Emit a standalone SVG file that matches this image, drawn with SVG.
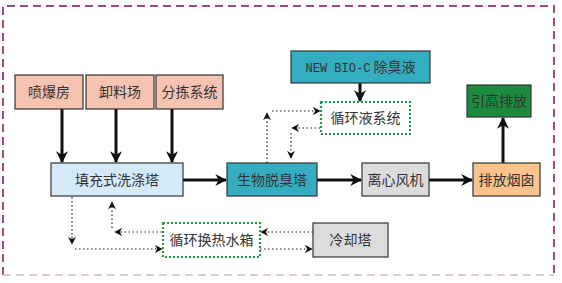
<svg xmlns="http://www.w3.org/2000/svg" width="562" height="283" viewBox="0 0 562 283">
<defs>
<marker id="ah" viewBox="0 0 10 10" refX="9" refY="5" markerWidth="4" markerHeight="4" orient="auto" markerUnits="strokeWidth">
<path d="M0,0 L10,5 L0,10 L3,5 z" fill="#111"/>
</marker>
<marker id="ahd" viewBox="0 0 10 10" refX="9" refY="5" markerWidth="8" markerHeight="8" orient="auto" markerUnits="userSpaceOnUse">
<path d="M0,0 L10,5 L0,10 L3,5 z" fill="#111"/>
</marker>
</defs>
<style>
.box{stroke:#333;stroke-width:1.2}
.pink{fill:#f6c2b2}
.lblue{fill:#d4eaf8}
.teal{fill:#35adc1}
.grey{fill:#dcdcdc}
.orange{fill:#f8c38c}
.green{fill:#1d8b3e}
.dotbox{fill:#fff;stroke:#1e9a46;stroke-width:2.2;stroke-dasharray:2,2}
.t{font-family:"Noto Sans CJK SC","Noto Sans",sans-serif;font-size:14px;fill:#333;text-anchor:middle}
.solid{stroke:#111;stroke-width:3;fill:none;marker-end:url(#ah)}
.dot{stroke:#222;stroke-width:1.2;stroke-dasharray:1.5,2.5;fill:none;marker-end:url(#ahd)}
</style>
<rect x="0" y="0" width="562" height="283" fill="#fff"/>
<g id="frame" fill="none" stroke-width="2" stroke-dasharray="8,5">
<path d="M3,275 L3,6 L554,6 L554,275" stroke="#a3467e"/>
<path d="M3,275 L554,275" stroke="#d2b7c5" stroke-width="1.5"/>
</g>
<g id="connectors">
<line class="solid" x1="62" y1="109" x2="62" y2="162"/>
<line class="solid" x1="116" y1="109" x2="116" y2="162"/>
<line class="solid" x1="172" y1="109" x2="172" y2="162"/>
<line class="solid" x1="183" y1="180" x2="226" y2="180"/>
<line class="solid" x1="317" y1="180" x2="361" y2="180"/>
<line class="solid" x1="429" y1="180" x2="472" y2="180"/>
<line class="solid" x1="503" y1="163" x2="503" y2="118"/>
<line class="solid" x1="360" y1="83" x2="360" y2="101"/>
<line class="dot" x1="267" y1="163" x2="267" y2="113"/>
<line class="dot" x1="272" y1="111" x2="320" y2="111"/>
<line class="dot" x1="320" y1="128" x2="292" y2="128"/>
<line class="dot" x1="291" y1="133" x2="291" y2="158"/>
<line class="dot" x1="72" y1="197" x2="72" y2="244"/>
<line class="dot" x1="75" y1="249" x2="162" y2="249"/>
<line class="dot" x1="162" y1="232" x2="115" y2="232"/>
<line class="dot" x1="112" y1="228" x2="112" y2="202"/>
<line class="dot" x1="313" y1="232" x2="261" y2="232"/>
<line class="dot" x1="260" y1="249" x2="312" y2="249"/>
</g>
<g id="n1"><rect class="box pink" x="15" y="75" width="68" height="34"/><text class="t" x="49" y="97">喷爆房</text></g>
<g id="n2"><rect class="box pink" x="86" y="75" width="68" height="34"/><text class="t" x="120" y="97">卸料场</text></g>
<g id="n3"><rect class="box pink" x="156" y="75" width="67" height="34"/><text class="t" x="189.5" y="97">分拣系统</text></g>
<g id="n4"><rect class="box lblue" x="51" y="163" width="132" height="33"/><text class="t" x="117" y="185">填充式洗涤塔</text></g>
<g id="n5"><rect class="box teal" x="227" y="163" width="90" height="33"/><text class="t" x="272" y="185">生物脱臭塔</text></g>
<g id="n6"><rect class="box grey" x="362" y="163" width="67" height="33"/><text class="t" x="395.5" y="185">离心风机</text></g>
<g id="n7"><rect class="box orange" x="473" y="163" width="67" height="33"/><text class="t" x="506.5" y="185">排放烟囱</text></g>
<g id="n8"><rect class="box green" x="467" y="85" width="64" height="32"/><text class="t" x="499" y="106">引高排放</text></g>
<g id="n9"><rect class="box teal" x="291" y="51" width="139" height="32"/><text class="t" x="360.5" y="72"><tspan font-family="Liberation Mono" font-size="12">NEW BIO-C</tspan> 除臭液</text></g>
<g id="n10"><rect class="dotbox" x="321" y="102" width="89" height="32"/><text class="t" x="365.5" y="123">循环液系统</text></g>
<g id="n11"><rect class="dotbox" x="163" y="223" width="97" height="34"/><text class="t" x="211.5" y="245">循环换热水箱</text></g>
<g id="n12"><rect class="box grey" x="313" y="223" width="75" height="34"/><text class="t" x="350.5" y="245">冷却塔</text></g>
</svg>
